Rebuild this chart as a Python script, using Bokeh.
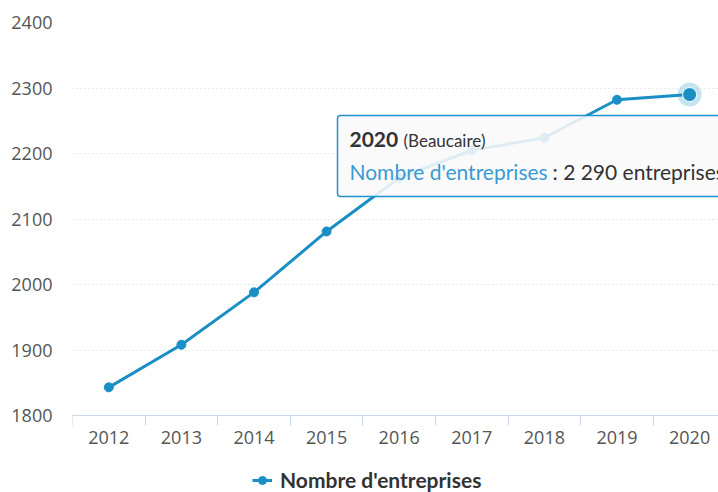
from bokeh.plotting import figure
from bokeh.models import FixedTicker, BoxAnnotation, Label, Legend, LegendItem, Range1d
from bokeh.embed import file_html
from bokeh.resources import INLINE

# ---- data ----
years = [2012, 2013, 2014, 2015, 2016, 2017, 2018, 2019, 2020]
values = [1843, 1908, 1988, 2081, 2163, 2205, 2224, 2282, 2290]
y_ticks = [1800, 1900, 2000, 2100, 2200, 2300, 2400]
series_name = "Nombre d'entreprises"
tip_title = "2020"
tip_place = "(Beaucaire)"
tip_value = ": 2 290 entreprises"

LINE = "#1a8fc6"
W, H = 718, 492
ML, MT = 72, 22
AXIS_Y = 415            # pixel row of the x axis line
PX_PER_YEAR = 72.6
PX_PER_UNIT = (AXIS_Y - MT) / (y_ticks[-1] - y_ticks[0])

p = figure(width=W, height=H, output_backend="svg", toolbar_location=None,
           x_range=Range1d(2011.5, 2011.5 + (W - ML) / PX_PER_YEAR),
           y_range=Range1d(y_ticks[0] - (H - AXIS_Y) / PX_PER_UNIT, y_ticks[-1]),
           min_border_left=ML, min_border_right=0, min_border_top=MT, min_border_bottom=0)
p.outline_line_color = None
p.background_fill_color = "white"
p.border_fill_color = "white"

# axes
xax = p.xaxis[0]
xax.fixed_location = y_ticks[0]
xax.ticker = FixedTicker(ticks=years, minor_ticks=[y - 0.5 for y in years] + [years[-1] + 0.5])
xax.axis_line_color = "#ccd6eb"
xax.major_tick_line_color = None
xax.major_tick_out = 0
xax.major_tick_in = 0
xax.minor_tick_line_color = "#ccd6eb"
xax.minor_tick_out = 10
xax.minor_tick_in = 0
xax.major_label_text_font = "Open Sans"
xax.major_label_text_font_size = "18px"
xax.major_label_text_color = "#555555"
xax.major_label_standoff = 5

yax = p.yaxis[0]
yax.ticker = FixedTicker(ticks=y_ticks)
yax.axis_line_color = None
yax.major_tick_line_color = None
yax.minor_tick_line_color = None
yax.major_tick_out = 0
yax.major_label_text_font = "Open Sans"
yax.major_label_text_font_size = "18px"
yax.major_label_text_color = "#555555"
yax.major_label_standoff = 20

p.xgrid.grid_line_color = None
p.ygrid.ticker = FixedTicker(ticks=y_ticks)
p.ygrid.grid_line_color = "#d4d4d4"
p.ygrid.grid_line_dash = "1 3"

# series
line_r = p.line(years, values, line_color=LINE, line_width=3)
pts_r = p.scatter(years, values, size=9, fill_color=LINE, line_color=LINE)
# hovered point
p.scatter([years[-1]], [values[-1]], size=24, fill_color=LINE, fill_alpha=0.25, line_color=None)
p.scatter([years[-1]], [values[-1]], size=14, fill_color=LINE, line_color="white", line_width=1)

# tooltip (pixel helpers)
def px_x(x):
    return 2011.5 + (x - ML) / PX_PER_YEAR

def px_y(y):
    return y_ticks[0] + (AXIS_Y - y) / PX_PER_UNIT

box = BoxAnnotation(left=px_x(337), right=px_x(900), top=px_y(115), bottom=px_y(196),
                    fill_color="#f9f9f9", fill_alpha=0.88, line_color="#1e93cb", line_width=1.5,
                    line_alpha=1.0, border_radius=3)
p.add_layout(box)

p.add_layout(Label(x=px_x(349), y=px_y(139), text=tip_title, text_font="Lato",
                   text_font_style="bold", text_font_size="21px", text_color="#333333",
                   text_baseline="middle"))
p.add_layout(Label(x=px_x(403), y=px_y(140), text=tip_place, text_font="Lato",
                   text_font_size="17px", text_color="#333333", text_baseline="middle"))
p.add_layout(Label(x=px_x(349), y=px_y(171), text=series_name, text_font="Lato",
                   text_font_size="21px", text_color="#3a9bd3", text_baseline="middle"))
p.add_layout(Label(x=px_x(552), y=px_y(171), text=tip_value, text_font="Lato",
                   text_font_size="21px", text_color="#333333", text_baseline="middle"))

# legend inside the (extended) frame, bottom area
legend = Legend(items=[LegendItem(label=series_name, renderers=[line_r, pts_r])],
                location=(252 - ML, H - 492), orientation="horizontal", padding=0, margin=0,
                glyph_width=20, glyph_height=20, label_standoff=8,
                label_text_font="Lato", label_text_font_style="bold",
                label_text_font_size="21px", label_text_color="#333333",
                background_fill_alpha=0, border_line_color=None)
p.add_layout(legend)

open("out.html", "w").write(file_html(p, INLINE))
